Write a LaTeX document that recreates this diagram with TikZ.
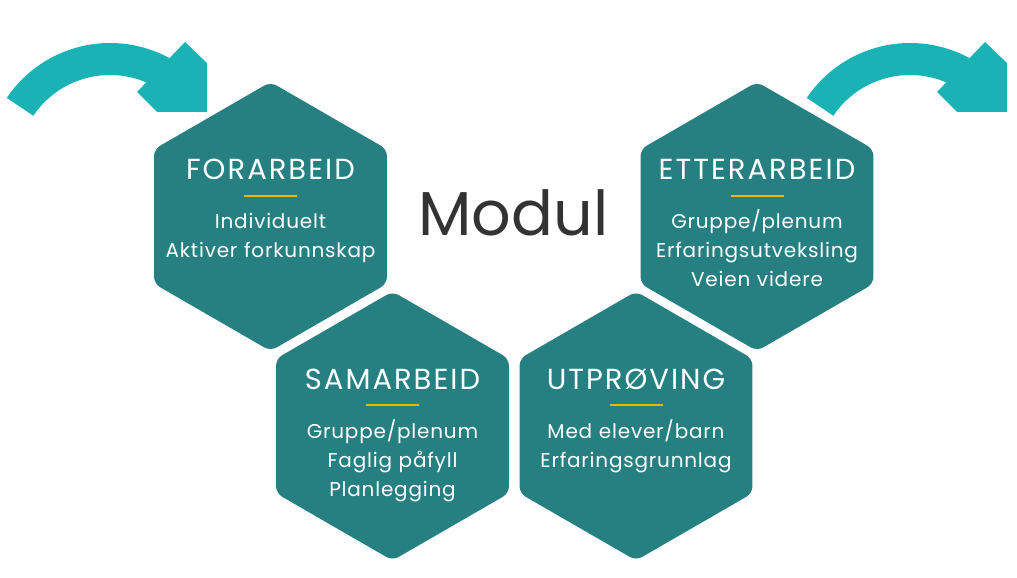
\documentclass[tikz,border=0pt]{standalone}
\usepackage{fontspec}
\setmainfont{Poppins}
\newfontfamily\titlefont[LetterSpace=7]{Poppins}
\newfontfamily\itemfont[LetterSpace=4]{Poppins}
\usetikzlibrary{shapes.geometric,calc}
\definecolor{hexteal}{RGB}{38,128,130}
\definecolor{arrowteal}{RGB}{27,178,182}
\definecolor{accent}{RGB}{240,180,0}
\definecolor{darktext}{RGB}{51,51,51}
\begin{document}
\begin{tikzpicture}[x=1pt,y=1pt,
    hexagon/.style ={regular polygon, regular polygon sides=6, shape border rotate=30,
      minimum size=269pt, inner sep=0pt, fill=hexteal, rounded corners=7pt},
    title/.style ={text=white, font=\titlefont\fontsize{29}{32}\selectfont, anchor=base, inner sep=0pt},
    items/.style ={text=white, font=\itemfont\fontsize{20}{29}\selectfont, anchor=base, inner sep=0pt,
      text width=230pt, align=center},
    rule/.style ={draw=accent, line width=1.8pt}]
   \useasboundingbox (0,0) rectangle (1017,578);
   % bent arrows
   \foreach \dx in {0,800} {
     \begin{scope}[xshift=\dx pt]
       \coordinate (bend) at (110,410.5);
       \fill[arrowteal] ($(bend)+(146:124.5)$) arc[start angle=146, end angle=61, radius=124.5]
         -- ($(bend)+(61:92.5)$) arc[start angle=61, end angle=146, radius=92.5] -- cycle;
       \fill[arrowteal] (185,536) -- (207,515) -- (207,466) -- (157,466) -- (137,486) -- cycle;
     \end{scope}
   }
   % hexagons
   \node[hexagon] (forarbeid)   at (270.5,361.5) {};
   \node[hexagon] (etterarbeid) at (757,361.5)   {};
   \node[hexagon] (samarbeid)   at (392.5,152)   {};
   \node[hexagon] (utproving)   at (636,152)     {};
   % texts
   \node[title] (tFor) at ([yshift=36.5pt]forarbeid.center) {FORARBEID};
   \node[title] (tEtt) at ([yshift=36.5pt]etterarbeid.center) {ETTERARBEID};
   \node[title] (tSam) at ([yshift=36.5pt]samarbeid.center) {SAMARBEID};
   \node[title] (tUtp) at ([yshift=36.5pt]utproving.center) {UTPRØVING};
   \foreach \h in {forarbeid,etterarbeid,samarbeid,utproving}
     \draw[rule] ([xshift=-26.5pt,yshift=20.8pt]\h.center) -- ([xshift=26.5pt,yshift=20.8pt]\h.center);
   \node[items] (iFor) at ([yshift=-12.5pt]forarbeid.center) {Individuelt\\Aktiver forkunnskap};
   \node[items] (iEtt) at ([yshift=-12.5pt]etterarbeid.center) {Gruppe/plenum\\Erfaringsutveksling\\Veien videre};
   \node[items] (iSam) at ([yshift=-12.5pt]samarbeid.center) {Gruppe/plenum\\Faglig påfyll\\Planlegging};
   \node[items] (iUtp) at ([yshift=-12.5pt]utproving.center) {Med elever/barn\\Erfaringsgrunnlag};
   \node[text=darktext, font=\fontsize{62}{70}\selectfont, anchor=base, inner sep=0pt] (modul) at (513.5,342.3) {Modul};
 \end{tikzpicture}
\end{document}
